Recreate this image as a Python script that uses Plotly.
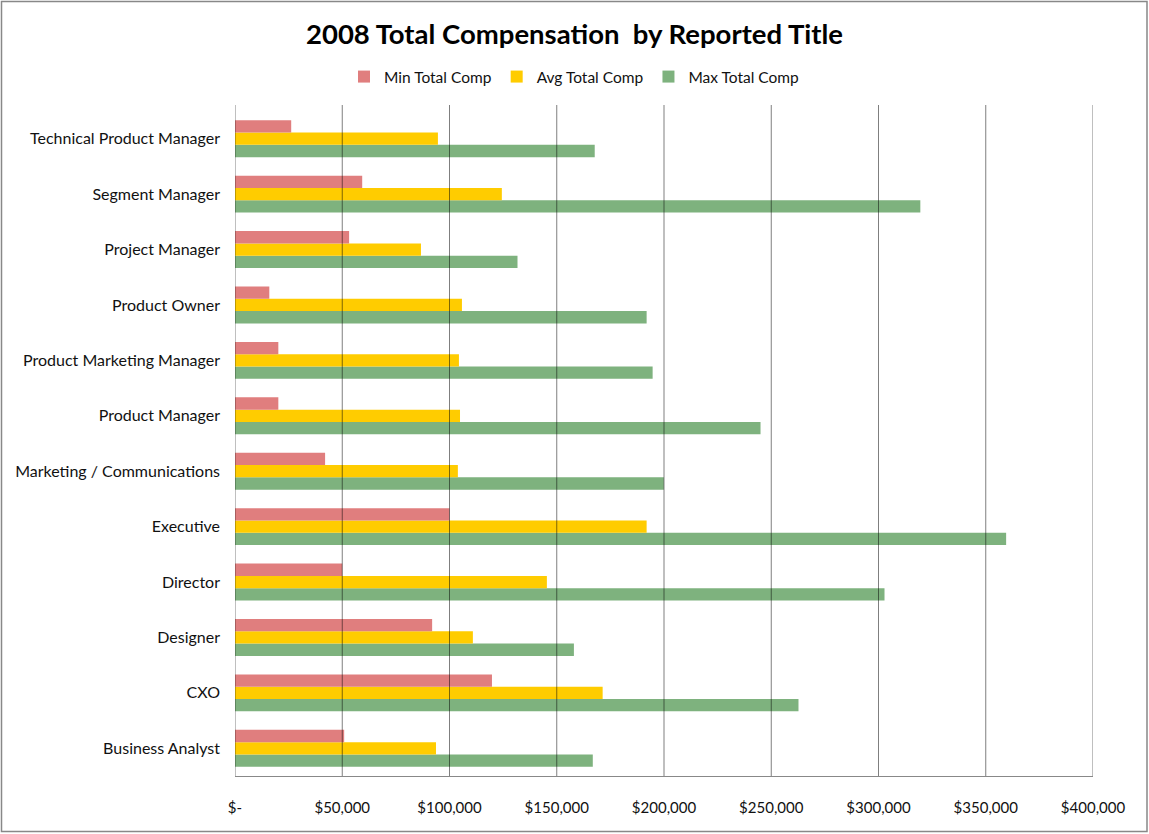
import plotly.graph_objects as go

# categories bottom -> top (plotly puts the first category at the bottom)
titles = ["Business Analyst", "CXO", "Designer", "Director", "Executive",
          "Marketing / Communications", "Product Manager",
          "Product Marketing Manager", "Product Owner", "Project Manager",
          "Segment Manager", "Technical Product Manager"]
min_comp = [50900, 119800, 91900, 50000, 100000, 42000, 20200, 20200, 16000, 53200, 59300, 26200]
avg_comp = [93700, 171400, 110900, 145400, 191900, 103900, 104900, 104400, 105800, 86700, 124400, 94600]
max_comp = [166800, 262700, 158000, 302800, 359500, 199900, 245000, 194700, 191900, 131700, 319500, 167700]

tick_vals = [0, 50000, 100000, 150000, 200000, 250000, 300000, 350000, 400000]
tick_text = ["$-", "$50,000", "$100,000", "$150,000", "$200,000",
             "$250,000", "$300,000", "$350,000", "$400,000"]

W, H = 1149, 834
ML, MR, MT, MB = 235, 56, 111, 58
PW, PH = W - ML - MR, H - MT - MB
GRID_TOP = 105  # gridlines rise a little above the category band

font = "Lato, 'Open Sans', sans-serif"

fig = go.Figure()
# added bottom-up inside each group: Max at bottom, Min on top
fig.add_trace(go.Bar(y=titles, x=max_comp, name="Max Total Comp", orientation="h",
                     marker=dict(color="#7EB27E", line=dict(width=0))))
fig.add_trace(go.Bar(y=titles, x=avg_comp, name="Avg Total Comp", orientation="h",
                     marker=dict(color="#FFCC00", line=dict(width=0))))
fig.add_trace(go.Bar(y=titles, x=min_comp, name="Min Total Comp", orientation="h",
                     marker=dict(color="#E07E7E", line=dict(width=0))))

# gridlines drawn over the bars, like the original
shapes = []
for v in tick_vals:
    shapes.append(dict(type="line", xref="x", yref="paper", x0=v, x1=v,
                       y0=0, y1=1 + (MT - GRID_TOP) / PH,
                       line=dict(color="rgba(0,0,0,0.5)", width=1), layer="above"))
# outer chart border
shapes.append(dict(type="rect", xref="paper", yref="paper",
                   x0=(1.5 - ML) / PW, x1=(W - 2 - ML) / PW,
                   y0=(2.5 - MB) / PH, y1=(H - 1.5 - MB) / PH,
                   line=dict(color="#888888", width=1.5), layer="below"))

fig.update_layout(
    width=W, height=H,
    margin=dict(l=ML, r=MR, t=MT, b=MB),
    paper_bgcolor="white", plot_bgcolor="white",
    barmode="group", bargap=0.333, bargroupgap=0,
    font=dict(family=font, size=16, color="#111111"),
    title=dict(text="<b>2008 Total Compensation  by Reported Title</b>",
               x=0.5, xref="container", xanchor="center",
               y=1 - 34 / H, yref="container", yanchor="middle",
               font=dict(family=font, size=27.5, color="#000000")),
    legend=dict(orientation="h", traceorder="reversed",
                x=0.5, xref="container", xanchor="center",
                y=1 - 77 / H, yref="container", yanchor="middle",
                font=dict(size=15.5), itemwidth=30, itemsizing="constant"),
    xaxis=dict(range=[0, 400000], tickvals=tick_vals, ticktext=tick_text,
               showgrid=False, zeroline=False, showline=True, linecolor="#888888",
               linewidth=1, ticks="", ticklabelstandoff=18, fixedrange=True,
               tickfont=dict(size=15)),
    yaxis=dict(showgrid=False, zeroline=False, showline=False, ticks="",
               ticklabelstandoff=14, fixedrange=True),
    shapes=shapes,
    showlegend=True,
)

fig.write_html("out.html", config={"displayModeBar": False},
               post_script="document.body.style.margin='0';")
